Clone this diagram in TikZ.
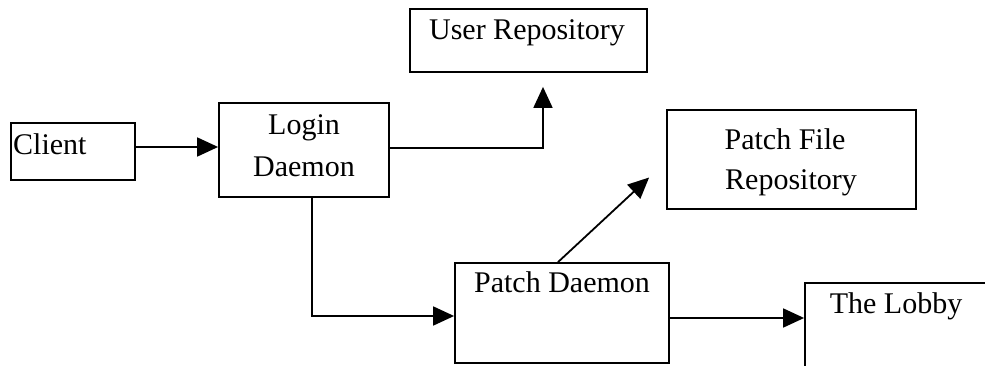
\documentclass[tikz,border=0pt]{standalone}
\usepackage{fontspec}
\setmainfont{Liberation Serif}
\usetikzlibrary{arrows.meta}
\begin{document}
\begin{tikzpicture}[x=1pt,y=-1pt,
  box/.style={draw, line width=1.8pt, rectangle, inner sep=0pt},
  txt/.style={font=\fontsize{30}{36}\selectfont, inner sep=0pt, anchor=base},
  arr/.style={line width=1.8pt, -{Triangle[length=21pt,width=19pt]}}]
\useasboundingbox (0,0) rectangle (985,366);
\clip (0,0) rectangle (985,366);

% boxes
\node[box, minimum width=124pt, minimum height=57pt] (client) at (73,151.5) {};
\node[box, minimum width=170pt, minimum height=94pt] (login) at (304,150) {};
\node[box, minimum width=237pt, minimum height=63pt] (user) at (528.5,40.5) {};
\node[box, minimum width=249pt, minimum height=99pt] (pfile) at (791.5,159.5) {};
\node[box, minimum width=214pt, minimum height=100pt] (patch) at (562,313) {};
\node[box, minimum width=190pt, minimum height=95pt] (lobby) at (900,330.5) {};

% labels
\node[txt, anchor=base west] (clientT) at (13,155) {Client};
\node[txt] (loginT1) at (304,135) {Login};
\node[txt] (loginT2) at (304,177) {Daemon};
\node[txt] (userT) at (527,40) {User Repository};
\node[txt] (pfileT1) at (785,150) {Patch File};
\node[txt] (pfileT2) at (791,190) {Repository};
\node[txt] (patchT) at (562,292) {Patch Daemon};
\node[txt] (lobbyT) at (896,313) {The Lobby};

% connectors
\draw[arr] (client.east |- 0,147) -- (login.west |- 0,147);
\draw[arr, shorten >=14pt] (login.east |- 0,148) -| (543,0 |- user.south);
\draw[arr] ([xshift=8pt]login.south) |- (patch.west |- 0,316);
\draw[arr] ([xshift=-4pt]patch.north) -- ([shift={(-17pt,-18pt)}]pfile.west);
\draw[arr] (patch.east |- 0,318) -- (lobby.west |- 0,318);
\end{tikzpicture}
\end{document}
